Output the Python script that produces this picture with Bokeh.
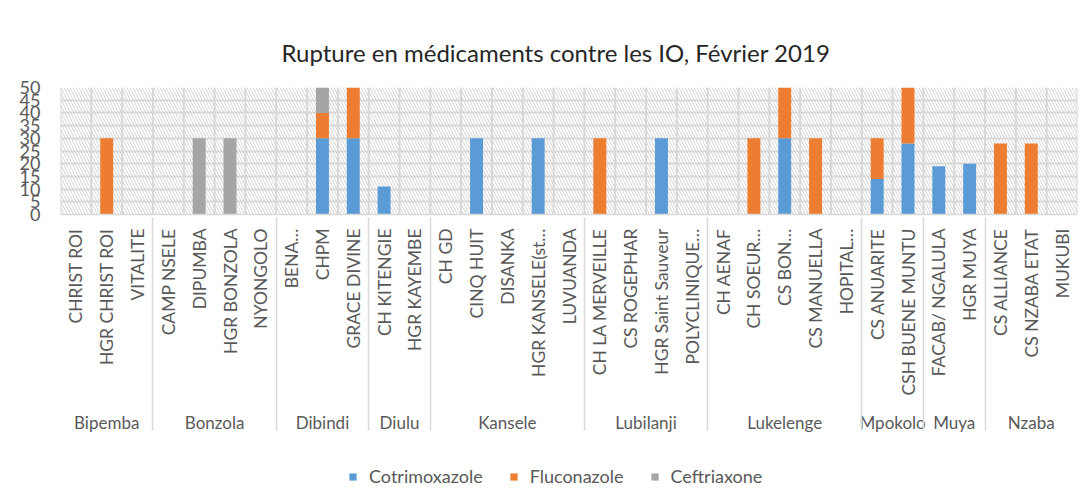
import math
from bokeh.plotting import figure
from bokeh.layouts import column
from bokeh.models import (FactorRange, BoxAnnotation, Legend, LegendItem, ColumnDataSource,
                          Range1d, FixedTicker, Title)
from bokeh.embed import file_html
from bokeh.resources import INLINE

# ---- data ----
zones = ["Bipemba", "Bonzola", "Dibindi", "Diulu", "Kansele", "Lubilanji",
         "Lukelenge", "Mpokolo", "Muya", "Nzaba"]
facilities = [
    ["CHRIST ROI", "HGR CHRIST ROI", "VITALITE"],
    ["CAMP NSELE", "DIPUMBA", "HGR BONZOLA", "NYONGOLO"],
    ["BENA…", "CHPM", "GRACE DIVINE"],
    ["CH KITENGIE", "HGR KAYEMBE"],
    ["CH GD", "CINQ HUIT", "DISANKA", "HGR KANSELE(st…", "LUVUANDA"],
    ["CH LA MERVEILLE", "CS ROGEPHAR", "HGR Saint Sauveur", "POLYCLINIQUE…"],
    ["CH AENAF", "CH SOEUR…", "CS BON…", "CS MANUELLA", "HOPITAL…"],
    ["CS ANUARITE", "CSH BUENE MUNTU"],
    ["FACAB/ NGALULA", "HGR MUYA"],
    ["CS ALLIANCE", "CS NZABA ETAT", "MUKUBI"],
]
series = ["Cotrimoxazole", "Fluconazole", "Ceftriaxone"]
cotrimoxazole = [0, 0, 0,  0, 0, 0, 0,  0, 30, 30,  11, 0,  0, 30, 0, 30, 0,
                 0, 0, 30, 0,  0, 0, 30, 0, 0,  14, 28,  19, 20,  0, 0, 0]
fluconazole = [0, 30, 0,  0, 0, 0, 0,  0, 10, 20,  0, 0,  0, 0, 0, 0, 0,
               30, 0, 0, 0,  0, 30, 20, 30, 0,  16, 22,  0, 0,  28, 28, 0]
ceftriaxone = [0, 0, 0,  0, 30, 30, 0,  0, 10, 0,  0, 0,  0, 0, 0, 0, 0,
               0, 0, 0, 0,  0, 0, 0, 0, 0,  0, 0,  0, 0,  0, 0, 0]
colors = ["#5B9BD5", "#ED7D31", "#A5A5A5"]
y_ticks = list(range(0, 51, 5))

# ---- main chart ----
factors = [(z, f) for z, fs in zip(zones, facilities) for f in fs]
src = ColumnDataSource(dict(x=factors, Cotrimoxazole=cotrimoxazole,
                            Fluconazole=fluconazole, Ceftriaxone=ceftriaxone))

p = figure(width=1088, height=464, output_backend="svg", toolbar_location=None,
           x_range=FactorRange(*factors, group_padding=0, factor_padding=0, range_padding=0),
           y_range=Range1d(0, 50),
           min_border_left=60, min_border_right=11, min_border_top=87, min_border_bottom=250)
p.outline_line_color = None
p.background_fill_color = "white"

# hatched plot area
p.add_layout(BoxAnnotation(bottom=0, top=50, fill_alpha=0, line_color=None,
                           hatch_pattern="\\", hatch_color="#d6d6d6", hatch_scale=6,
                           hatch_weight=1, level="underlay"))

# vertical grid lines at category boundaries
bx = [(z, f, -0.5) for z, f in factors] + [(factors[-1][0], factors[-1][1], 0.5)]
p.segment(x0=bx, x1=bx, y0=[0] * len(bx), y1=[50] * len(bx),
          line_color="#d9d9d9", line_width=2, level="underlay")

p.vbar_stack(series, x="x", width=0.42, color=colors, line_color=None, source=src)

p.xgrid.visible = False
p.ygrid.ticker = FixedTicker(ticks=y_ticks)
p.ygrid.grid_line_color = "#d9d9d9"
p.ygrid.grid_line_width = 2

p.yaxis.ticker = FixedTicker(ticks=y_ticks)
p.yaxis.axis_line_color = None
p.yaxis.major_tick_line_color = None
p.yaxis.minor_tick_line_color = None
p.yaxis.major_label_standoff = 14
p.yaxis.major_label_text_font = "Lato"
p.yaxis.major_label_text_font_size = "18px"
p.yaxis.major_label_text_color = "#595959"

ax = p.xaxis[0]
ax.axis_line_color = "#d9d9d9"
ax.axis_line_width = 1.5
ax.major_tick_line_color = None
ax.major_tick_out = 0
ax.major_label_standoff = 14
ax.major_label_orientation = math.pi / 2
ax.major_label_text_font = "Lato"
ax.major_label_text_font_size = "17.5px"
ax.major_label_text_color = "#595959"
ax.group_text_font = "Lato"
ax.group_text_font_size = "17px"
ax.group_text_font_style = "normal"
ax.group_text_color = "#595959"
ax.separator_line_color = "#d9d9d9"
ax.separator_line_width = 1.5

p.title = Title(text="Rupture en médicaments contre les IO, Février 2019", align="left",
                offset=221, text_font="Lato", text_font_size="24px",
                text_font_style="normal", text_color="#262626", standoff=42)

# ---- legend strip (bars fall outside its y range; only the legend shows) ----
pl = figure(width=1088, height=26, output_backend="svg", toolbar_location=None,
            x_range=FactorRange(*factors), y_range=Range1d(1000, 1001),
            x_axis_location=None, y_axis_location=None,
            min_border_left=0, min_border_right=0, min_border_top=0, min_border_bottom=0)
pl.grid.visible = False
pl.outline_line_color = None
leg_r = pl.vbar_stack(series, x="x", width=0.42, color=colors, line_color=None, source=src)
legend = Legend(items=[LegendItem(label=s, renderers=[r]) for s, r in zip(series, leg_r)],
                orientation="horizontal", location=(288, 3), border_line_color=None,
                background_fill_alpha=0, label_text_font="Lato", label_text_font_size="18px",
                label_text_color="#595959", glyph_width=9, glyph_height=9, spacing=26,
                label_standoff=12, padding=0, margin=0)
pl.add_layout(legend, "center")

layout = column(p, pl, spacing=0)
open("out.html", "w").write(file_html(layout, INLINE))
